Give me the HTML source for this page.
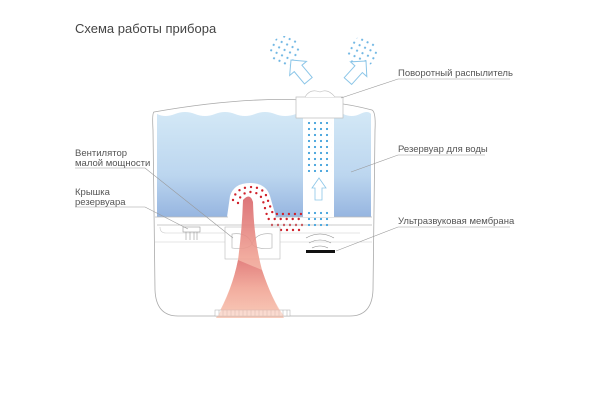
<!DOCTYPE html>
<html><head><meta charset="utf-8"><style>
body{margin:0;background:#fff}
svg{display:block;font-family:"Liberation Sans",sans-serif}
</style></head><body>
<svg width="600" height="400" viewBox="0 0 600 400" xmlns="http://www.w3.org/2000/svg">
<defs>
<linearGradient id="w" x1="0" y1="0" x2="0" y2="1"><stop offset="0" stop-color="#d3e8f6"/><stop offset="0.6" stop-color="#bcd6ef"/><stop offset="1" stop-color="#96b5e0"/></linearGradient>
<linearGradient id="r" x1="0" y1="0" x2="0" y2="1"><stop offset="0" stop-color="#d9656a"/><stop offset="0.5" stop-color="#f0a294"/><stop offset="1" stop-color="#f8c6b4"/></linearGradient>
<pattern id="bd" width="6" height="6" patternUnits="userSpaceOnUse"><circle cx="3" cy="3" r="1.1" fill="#3fa0db"/></pattern>
<pattern id="bd2" width="6" height="6" patternUnits="userSpaceOnUse" patternTransform="rotate(25)"><circle cx="3" cy="3" r="1.1" fill="#6fb6e3"/></pattern>
<pattern id="rd" width="6" height="6" patternUnits="userSpaceOnUse"><circle cx="3" cy="3" r="1.3" fill="#d0202a"/></pattern>
</defs>
<text x="75" y="33" font-size="13" fill="#444">Схема работы прибора</text>
<path d="M154,112 Q290,88 372,110 Q376,112 375,130 L373,290 Q372,316 350,316 L178,316 Q156,316 155,290 L153,130 Q152,113 154,112Z" fill="#fff" stroke="#aaa" stroke-width="0.8"/>
<path d="M157,114 Q165,118 175,114 T195,114 T215,114 T235,114 T255,114 T275,114 T296,114 L296,118 L303,118 L303,217 L157,217Z" fill="url(#w)"/>
<path d="M334,118 L343,118 L343,114 Q352,118 360,114 T371,114 L371,217 L334,217Z" fill="url(#w)"/>
<path d="M227,217 L230,196 Q234,183 250,183 Q266,183 270,196 L276,217Z" fill="#fff"/>
<g fill="none" stroke="#d0202a" stroke-width="2.4" stroke-linecap="round" stroke-dasharray="0 6">
<path d="M233,200 Q236,188 250,187 Q264,187 267,198 L273,214 L303,214"/>
<path d="M238,203 Q240,193 250,192 Q260,192 263,201 L268,219 L303,219"/>
<path d="M272,225 L303,225 M275,230 L300,230"/>
</g>
<path d="M155,217 L228,217 M275,217 L372,217 M157,225 L372,225" stroke="#bbb" stroke-width="0.7"/>
<path d="M160,227 Q160,233 166,233 L360,233" stroke="#ccc" fill="none" stroke-width="0.6"/>
<line x1="155" y1="242" x2="372" y2="242" stroke="#ccc" stroke-width="0.6"/>
<rect x="183" y="227" width="17" height="5" fill="#fff" stroke="#999" stroke-width="0.6"/>
<path d="M186,232 v8 M190,232 v8 M194,232 v8 M197,232 v8" stroke="#999" stroke-width="0.6"/>
<rect x="225" y="227" width="55" height="32" fill="#fff" stroke="#bbb" stroke-width="0.6"/>
<path d="M232,234 Q248,232 252,244 Q248,250 232,248Z M272,234 Q256,232 252,244 Q256,250 272,248Z" fill="#fff" stroke="#aaa" stroke-width="0.6"/>
<path d="M243,200 Q250,192 253,202 Q254,240 262,270 Q272,300 284,318 L216,318 Q232,290 238,260 Q242,230 243,200Z" fill="url(#r)" opacity="0.9"/>
<rect x="303" y="118" width="31" height="99" fill="#fff"/>
<rect x="306" y="122" width="26" height="50" fill="url(#bd)"/>
<rect x="306" y="209" width="26" height="18" fill="url(#bd)"/>
<path d="M315,188 L312,188 L319,178 L326,188 L322,188 L322,200 L315,200Z" fill="#fff" stroke="#8cc6e8" stroke-width="0.8"/>
<rect x="296" y="97" width="47" height="21" fill="#fff" stroke="#bbb" stroke-width="0.7"/>
<path d="M305,97 Q310,88 320,92 Q328,88 335,97" fill="#fff" stroke="#bbb" stroke-width="0.6"/>
<path d="M306,238 Q320,230 334,238 M309,243 Q320,237 331,243 M312,248 Q320,244 328,248" stroke="#888" fill="none" stroke-width="0.6"/>
<rect x="306" y="250" width="29" height="3" fill="#111"/>
<rect x="215" y="310" width="75" height="6" fill="#fff" stroke="#aaa" stroke-width="0.5"/>
<path d="M219,310v6M223,310v6M227,310v6M231,310v6M235,310v6M239,310v6M243,310v6M247,310v6M251,310v6M255,310v6M259,310v6M263,310v6M267,310v6M271,310v6M275,310v6M279,310v6M283,310v6M287,310v6" stroke="#aaa" stroke-width="0.5"/>
<path d="M218,316 Q232,290 238,260 L262,270 Q272,300 284,316Z" fill="url(#r)" opacity="0.6"/>
<circle cx="285" cy="51" r="15" fill="url(#bd2)"/>
<circle cx="362" cy="52" r="15" fill="url(#bd2)"/>
<polygon points="0,0 11,11 5,11 5,27 -5,27 -5,11 -11,11" transform="translate(291,60) rotate(-40)" fill="#fff" stroke="#8cc6e8" stroke-width="1"/>
<polygon points="0,0 11,11 5,11 5,27 -5,27 -5,11 -11,11" transform="translate(366,61) rotate(42)" fill="#fff" stroke="#8cc6e8" stroke-width="1"/>
<g stroke="#999" stroke-width="0.6" fill="none">
<path d="M75,168 L145,168 L233,238"/>
<path d="M75,207 L145,207 L188,229"/>
<path d="M510,79 L398,79 L341,98"/>
<path d="M485,155 L398,155 L351,172"/>
<path d="M510,227 L398,227 L336,251"/>
</g>
<g fill="#555" font-size="9.5">
<text x="75" y="156">Вентилятор</text><text x="75" y="166">малой мощности</text>
<text x="75" y="195">Крышка</text><text x="75" y="205">резервуара</text>
<text x="398" y="76">Поворотный распылитель</text>
<text x="398" y="152">Резервуар для воды</text>
<text x="398" y="224">Ультразвуковая мембрана</text>
</g>
</svg>
</body></html>
